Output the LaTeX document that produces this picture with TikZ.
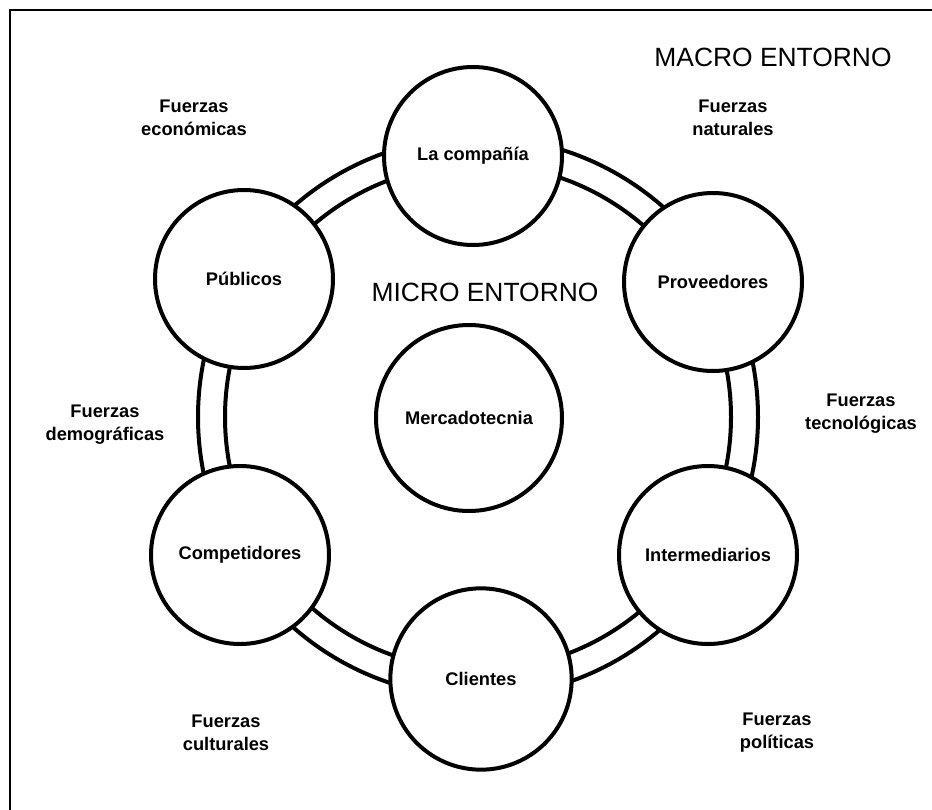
\documentclass[tikz,border=0pt]{standalone}
\usepackage{fontspec}
\setmainfont{Liberation Sans}
\begin{document}
\begin{tikzpicture}[x=0.75pt,y=-0.75pt,
  actor/.style={circle,draw=black,fill=white,line width=3pt,minimum size=133.5pt,inner sep=0pt,
    font=\fontsize{13.7}{16}\selectfont\bfseries},
  force/.style={align=center,font=\fontsize{13.7}{17.3}\selectfont\bfseries},
  zone/.style={font=\fontsize{19.8}{22}\selectfont},
  ringline/.style={line width=3pt}]
\useasboundingbox (0,0) rectangle (932,810);
% outer frame
\draw[line width=1.5pt] (10,830) -- (10,9.5) -- (950,9.5);
% double ring joining the actors
\coordinate (ringc) at (478,417);
\draw[ringline] (ringc) circle[radius=210pt];
\draw[ringline] (ringc) circle[radius=189.75pt];
% actors around the ring
\node[actor] (comp) at (473,156) {La compañía};
\node[actor] (prov) at (713,282) {Proveedores};
\node[actor] (inter) at (708,555) {Intermediarios};
\node[actor,minimum size=136pt] (cli) at (481,679) {Clientes};
\node[actor] (compt) at (240,555) {Competidores};
\node[actor] (pub) at (244,279) {Públicos};
% centre
\node[actor,minimum size=139.5pt] (merc) at (469,418) {Mercadotecnia};
% zone titles
\node[zone] (macro) at (773,57) {MACRO ENTORNO};
\node[zone] (micro) at (485,292) {MICRO ENTORNO};
% environmental forces
\node[force] (econ) at (194,118) {Fuerzas\\económicas};
\node[force] (nat) at (733,118) {Fuerzas\\naturales};
\node[force] (tec) at (861,414) {Fuerzas\\tecnológicas};
\node[force] (dem) at (105,425) {Fuerzas\\demográficas};
\node[force] (cult) at (226,733) {Fuerzas\\culturales};
\node[force] (pol) at (777,733) {Fuerzas\\políticas};
\end{tikzpicture}
\end{document}
